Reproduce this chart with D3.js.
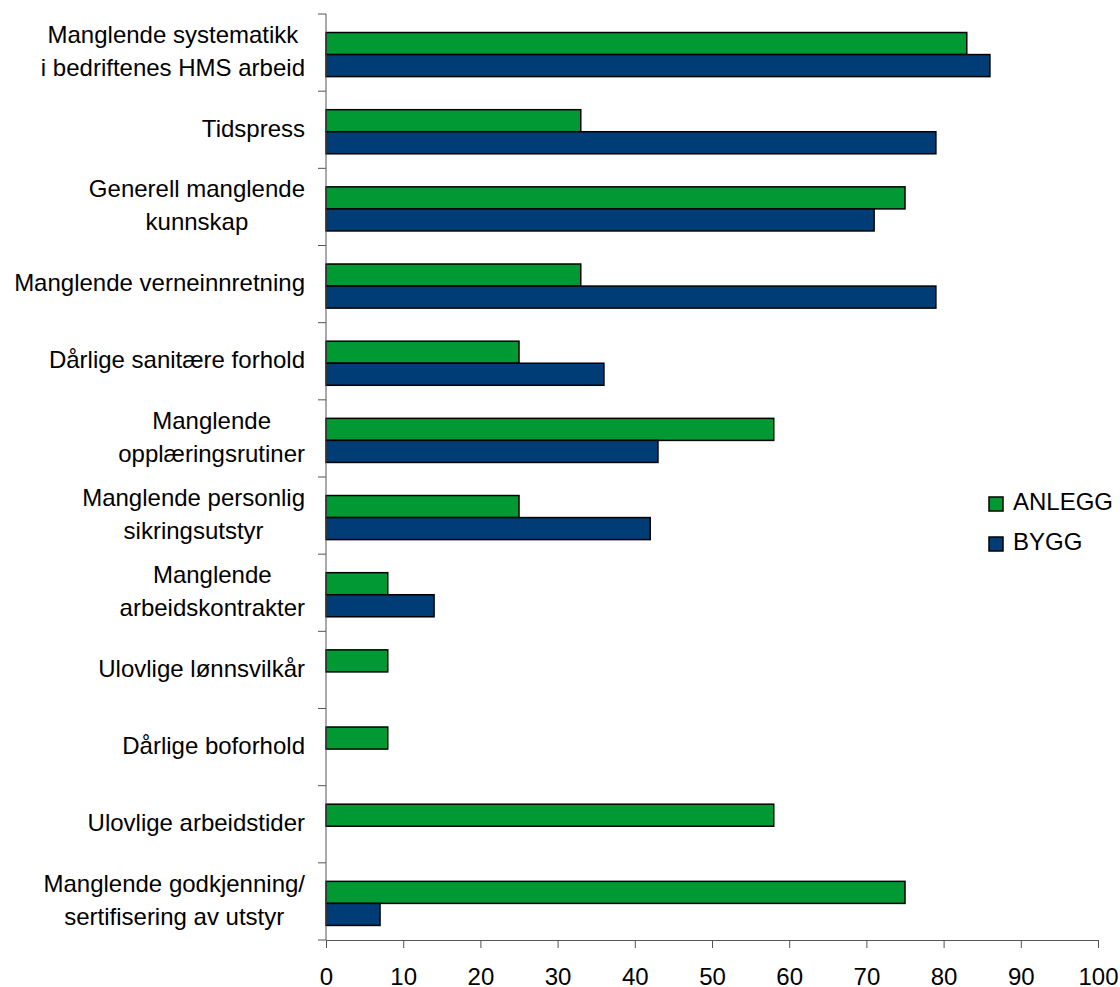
<!DOCTYPE html>
<html>
<head>
<meta charset="utf-8">
<script src="https://cdn.jsdelivr.net/npm/d3@7"></script>
<style>
  html, body { margin: 0; padding: 0; background: #fff; }
  svg { display: block; font-family: "Liberation Sans", Arial, sans-serif; }
</style>
</head>
<body>
<svg id="chart" width="1120" height="987"></svg>
<script>
const categories = [
  ["Manglende systematikk", "i bedriftenes HMS arbeid"],
  ["Tidspress"],
  ["Generell manglende", "kunnskap"],
  ["Manglende verneinnretning"],
  ["Dårlige sanitære forhold"],
  ["Manglende", "opplæringsrutiner"],
  ["Manglende personlig", "sikringsutstyr"],
  ["Manglende", "arbeidskontrakter"],
  ["Ulovlige lønnsvilkår"],
  ["Dårlige boforhold"],
  ["Ulovlige arbeidstider"],
  ["Manglende godkjenning/", "sertifisering av utstyr"]
];
const series = ["ANLEGG", "BYGG"];
const anlegg = [83, 33, 75, 33, 25, 58, 25, 8, 8, 8, 58, 75];
const bygg = [86, 79, 71, 79, 36, 43, 42, 14, 0, 0, 0, 7];
const xTicks = [0, 10, 20, 30, 40, 50, 60, 70, 80, 90, 100];

const colors = { ANLEGG: "#009933", BYGG: "#003d77" };
const FONT = 24;
const LINE_H = 33;

const svg = d3.select("#chart");
const plotLeft = 326, plotRight = 1098, plotTop = 14, plotBottom = 940;

const x = d3.scaleLinear().domain([0, 100]).range([plotLeft, plotRight]);
const y = d3.scaleBand().domain(d3.range(categories.length)).range([plotTop, plotBottom]).padding(0);
const ySub = d3.scaleBand().domain(series)
  .range([0, y.bandwidth()])
  .paddingInner(0).paddingOuter(0.75).align(0.56);

const rows = categories.map((c, i) => ({ i, label: c, ANLEGG: anlegg[i], BYGG: bygg[i] }));

// bars
const groups = svg.append("g").selectAll("g")
  .data(rows)
  .join("g")
  .attr("transform", d => `translate(0,${y(d.i)})`);

groups.selectAll("rect")
  .data(d => series.map(s => ({ key: s, value: d[s] })).filter(v => v.value > 0))
  .join("rect")
  .attr("x", x(0))
  .attr("y", d => ySub(d.key))
  .attr("width", d => x(d.value) - x(0))
  .attr("height", ySub.bandwidth())
  .attr("fill", d => colors[d.key])
  .attr("stroke", "#000")
  .attr("stroke-width", 1.5);

// y axis line + boundary ticks
const yAxis = svg.append("g").attr("stroke", "#555").attr("stroke-width", 1);
yAxis.append("line")
  .attr("x1", plotLeft).attr("x2", plotLeft)
  .attr("y1", plotTop).attr("y2", plotBottom);
yAxis.selectAll(".tick")
  .data(d3.range(categories.length + 1))
  .join("line")
  .attr("x1", plotLeft - 8).attr("x2", plotLeft)
  .attr("y1", i => i < categories.length ? y(i) : plotBottom)
  .attr("y2", i => i < categories.length ? y(i) : plotBottom);

// category labels, block right-aligned, lines centred
const labelRight = 305;
const labels = svg.append("g")
  .attr("font-size", FONT)
  .attr("fill", "#000");

rows.forEach(d => {
  const cy = y(d.i) + y.bandwidth() / 2;
  const n = d.label.length;
  const t = labels.append("text").attr("text-anchor", "middle");
  const spans = d.label.map((line, k) =>
    t.append("tspan")
      .attr("y", cy + 7 + (k - (n - 1) / 2) * LINE_H)
      .text(line));
  const w = d3.max(spans, s => s.node().getComputedTextLength());
  spans.forEach(s => s.attr("x", labelRight - w / 2));
});

// x axis
const xAxis = svg.append("g")
  .attr("transform", `translate(0,${plotBottom})`)
  .call(d3.axisBottom(x).tickValues(xTicks).tickSize(8).tickPadding(20).tickSizeOuter(0));
xAxis.select(".domain").attr("stroke", "#555");
xAxis.selectAll(".tick line").attr("stroke", "#555");
xAxis.selectAll(".tick text")
  .attr("font-size", FONT)
  .attr("font-family", "Liberation Sans, Arial, sans-serif")
  .attr("fill", "#000");

// legend
const legend = svg.append("g")
  .attr("transform", "translate(989,497)")
  .selectAll("g")
  .data(series)
  .join("g")
  .attr("transform", (d, i) => `translate(0,${i * 40})`);
legend.append("rect")
  .attr("width", 14).attr("height", 14)
  .attr("fill", d => colors[d])
  .attr("stroke", "#000")
  .attr("stroke-width", 1.5);
legend.append("text")
  .attr("x", 24).attr("y", 13)
  .attr("font-size", FONT)
  .text(d => d);
</script>
</body>
</html>
